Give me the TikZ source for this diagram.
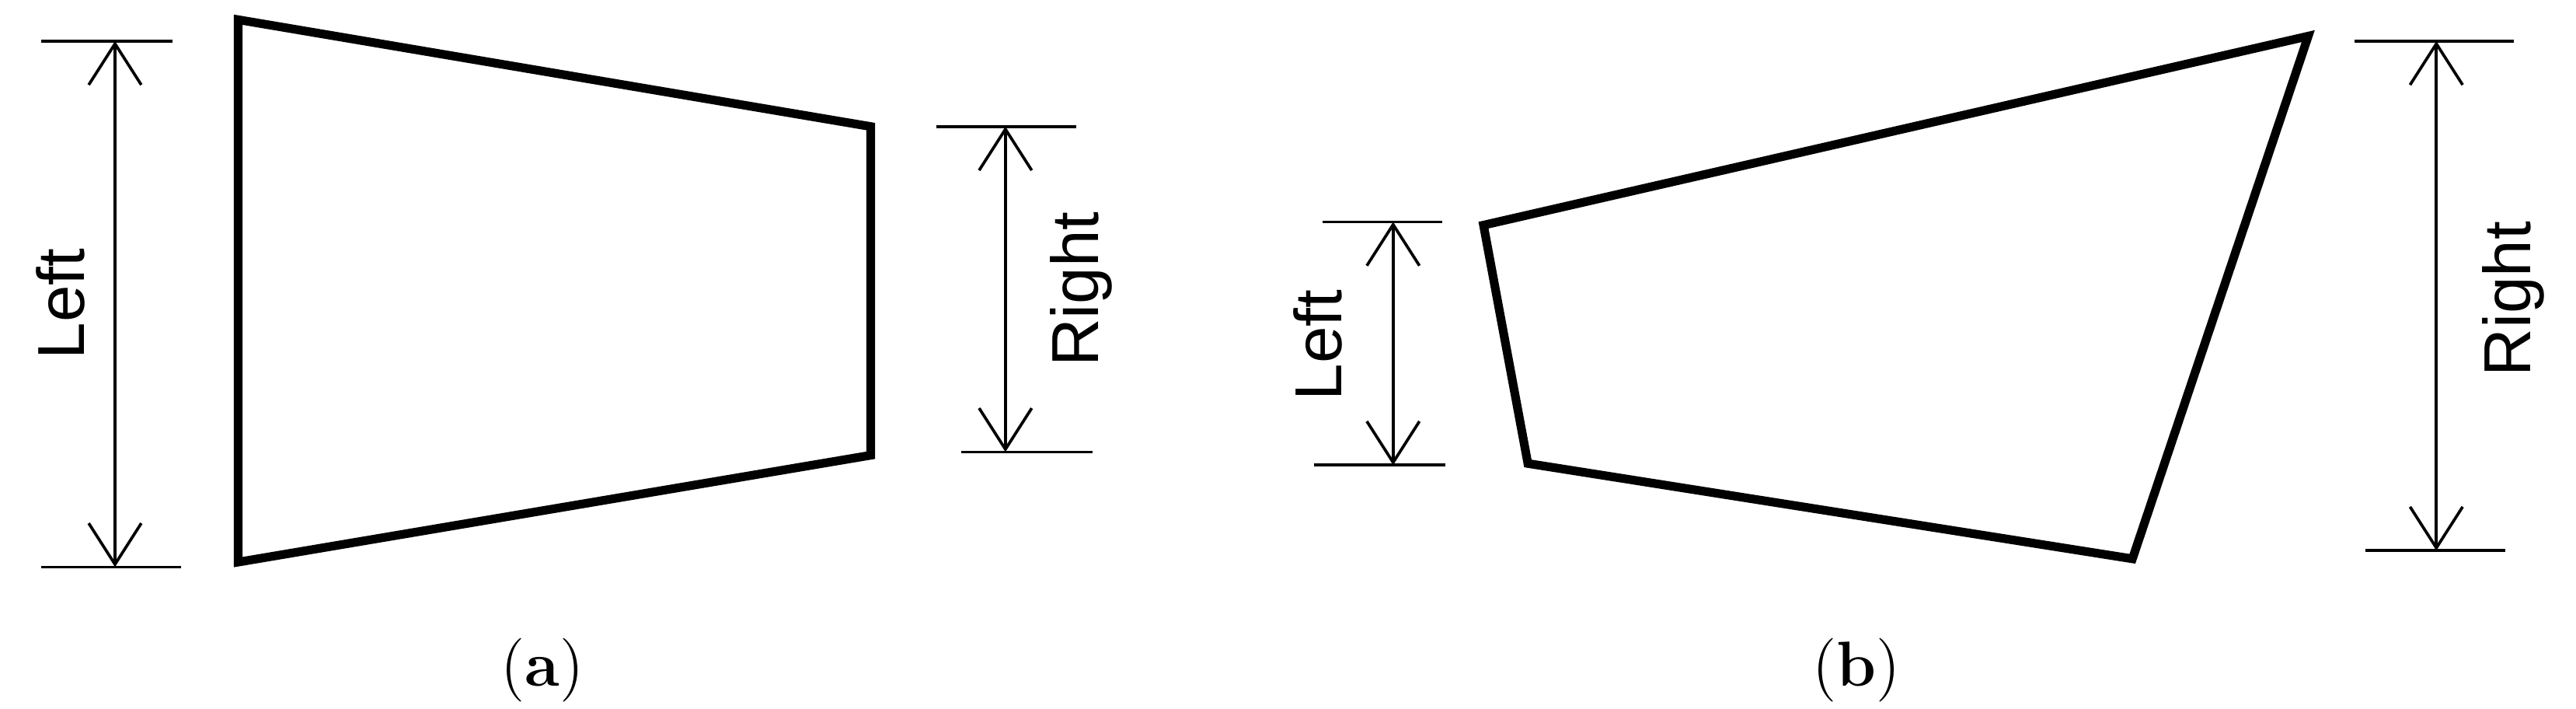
\documentclass[tikz,border=0pt]{standalone}
\usepackage{fontspec}
\setsansfont{Liberation Sans}
\usetikzlibrary{arrows.meta}
\begin{document}
\begin{tikzpicture}[x=0.01cm,y=-0.01cm,
  quadline/.style={line width=1.5pt,line join=miter},
  tick/.style={line width=0.5pt},
  dim/.style={line width=0.5pt,{Straight Barb[length=0.25cm,width=0.32cm]}-{Straight Barb[length=0.25cm,width=0.32cm]}},
  lbl/.style={font=\sffamily\fontsize{11.5}{12}\selectfont,rotate=90},
  captext/.style={font=\fontsize{11}{12}\selectfont}]
\useasboundingbox (0,0) rectangle (1568,431);
% (a)
\coordinate (a1) at (145,12); \coordinate (a2) at (530,77);
\coordinate (a3) at (530,277); \coordinate (a4) at (145,342);
\draw[quadline] (a1)--(a2)--(a3)--(a4)--cycle;
\coordinate (lt1) at (25,25); \coordinate (lt2) at (105,25);
\coordinate (lb1) at (25,345); \coordinate (lb2) at (110,345);
\draw[tick] (lt1)--(lt2); \draw[tick] (lb1)--(lb2);
\coordinate (la) at (70,25); \coordinate (lb) at (70,345);
\draw[dim] (la)--(lb);
\node[lbl] (L1) at (37,185) {Left};
\coordinate (rt1) at (570,77); \coordinate (rt2) at (655,77);
\coordinate (rb1) at (585,275); \coordinate (rb2) at (665,275);
\draw[tick] (rt1)--(rt2); \draw[tick] (rb1)--(rb2);
\coordinate (ra) at (612,77); \coordinate (rb) at (612,275);
\draw[dim] (ra)--(rb);
\node[lbl] (R1) at (658,176) {Right};
\node[captext] (ca) at (330,408) {(\textbf{a})};
% (b)
\coordinate (b1) at (903,137); \coordinate (b2) at (1405,22);
\coordinate (b3) at (1298,340); \coordinate (b4) at (930,282);
\draw[quadline] (b1)--(b2)--(b3)--(b4)--cycle;
\coordinate (mt1) at (805,135); \coordinate (mt2) at (878,135);
\coordinate (mb1) at (800,283); \coordinate (mb2) at (880,283);
\draw[tick] (mt1)--(mt2); \draw[tick] (mb1)--(mb2);
\coordinate (ma) at (848,135); \coordinate (mb) at (848,283);
\draw[dim] (ma)--(mb);
\node[lbl] (L2) at (802,210) {Left};
\coordinate (nt1) at (1433,25); \coordinate (nt2) at (1530,25);
\coordinate (nb1) at (1440,335); \coordinate (nb2) at (1525,335);
\draw[tick] (nt1)--(nt2); \draw[tick] (nb1)--(nb2);
\coordinate (na) at (1483,25); \coordinate (nb) at (1483,335);
\draw[dim] (na)--(nb);
\node[lbl] (R2) at (1530,182) {Right};
\node[captext] (cb) at (1130,408) {(\textbf{b})};
\end{tikzpicture}
\end{document}
